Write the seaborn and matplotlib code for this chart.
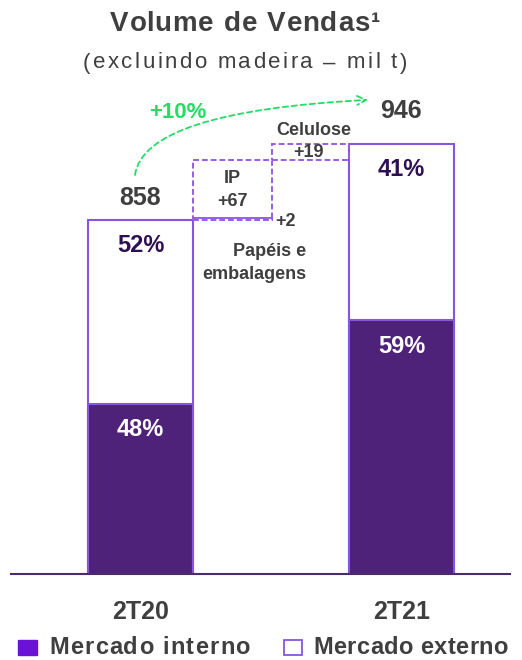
import matplotlib
matplotlib.use("Agg")
import matplotlib.pyplot as plt
from matplotlib.patches import Rectangle
import seaborn as sns
import pandas as pd

# ---- data ----
periods = ["2T20", "2T21"]
totals = [858, 946]
share_interno = [48, 59]
share_externo = [52, 41]
bridge_names = ["Papéis e\nembalagens", "IP", "Celulose"]
bridge_values = [2, 67, 19]
growth_label = "+10%"
legend_labels = ["Mercado interno", "Mercado externo"]
title = "Volume de Vendas¹"
subtitle = "(excluindo madeira – mil t)"

# ---- style ----
sns.set_theme(style="white")
plt.rcParams["font.family"] = ["Liberation Sans", "DejaVu Sans"]

TEXT = "#3f3f3f"
DARK_PURPLE = "#4F2279"
EDGE_PURPLE = "#8656E0"
DASH_PURPLE = "#9A5CE6"
LABEL_PURPLE = "#2E1052"
GREEN = "#22DD66"
LEG_PURPLE = "#6A12D6"

W, H = 522, 660
fig = plt.figure(figsize=(W / 100, H / 100), dpi=100)
ax = fig.add_axes([11 / W, 86 / H, 499 / W, 514 / H])
renderer = fig.canvas.get_renderer()


def text_width(s, **kw):
    t = fig.text(0, 0, s + "|", **kw)
    w = t.get_window_extent(renderer).width
    t.remove()
    t = fig.text(0, 0, "|", **kw)
    w -= t.get_window_extent(renderer).width
    t.remove()
    return w


def spaced_text(x_px, y_px, s, target_w, align="center", **kw):
    """Draw letter-spaced text (tracking) in figure pixel coordinates."""
    natural = text_width(s, **kw)
    track = (target_w - natural) / max(len(s) - 1, 1)
    total = natural + track * (len(s) - 1)
    x0 = x_px - total / 2 if align == "center" else x_px
    for i, ch in enumerate(s):
        if ch == " ":
            continue
        off = text_width(s[:i], **kw) if i else 0
        fig.text((x0 + off + i * track) / W, 1 - y_px / H, ch, ha="left",
                 va="center", **kw)


FLOOR = 448  # visual baseline of the (truncated) value axis
df = pd.DataFrame({
    "period": periods,
    "total": totals,
    "interno": [FLOOR + s / 100 * (t - FLOOR) for s, t in zip(share_interno, totals)],
})

sns.barplot(data=df, x="period", y="total", color="white", saturation=1,
            edgecolor=EDGE_PURPLE, linewidth=1.5, width=0.4, ax=ax)
sns.barplot(data=df, x="period", y="interno", color=DARK_PURPLE, saturation=1,
            edgecolor=EDGE_PURPLE, linewidth=1.5, width=0.4, ax=ax)

# bridge (waterfall) boxes
bridge_x = [(0.2, 0.505), (0.2, 0.505), (0.505, 0.8)]
bottom = totals[0]
boxes = []
for (x0, x1), v in zip(bridge_x, bridge_values):
    ax.bar((x0 + x1) / 2, v, width=x1 - x0, bottom=bottom, facecolor="none",
           edgecolor=DASH_PURPLE, linewidth=1.4, linestyle=(0, (3, 1.5)))
    boxes.append((x0, x1, bottom, bottom + v))
    bottom += v

ax.set_xlim(-0.496, 1.416)
ax.set_ylim(FLOOR, FLOOR + 514 / (76 / 88))

for s in ["top", "left", "right"]:
    ax.spines[s].set_visible(False)
ax.spines["bottom"].set_color("#4B2A6E")
ax.spines["bottom"].set_linewidth(1.5)
ax.set_yticks([])
ax.set_xlabel("")
ax.set_ylabel("")
ax.tick_params(axis="x", length=0, pad=19)
ax.set_xticks([0, 1])
ax.set_xticklabels(periods, fontsize=18, fontweight="bold", color=TEXT)

# totals
for i, t in enumerate(totals):
    ax.text(i, t + (25 if i == 0 else 38), f"{t}", ha="center", va="center",
            fontsize=18, fontweight="bold", color=TEXT)

# percentages
for i, (t, si, se) in enumerate(zip(totals, share_interno, share_externo)):
    top_int = df["interno"][i]
    ax.text(i, t - 30, f"{se}%", ha="center", va="center", fontsize=17,
            fontweight="bold", color=LABEL_PURPLE)
    ax.text(i, top_int - 30, f"{si}%", ha="center", va="center", fontsize=17,
            fontweight="bold", color="white")

# bridge labels
(p0, p1, pb, pt), (i0, i1, ib, it), (c0, c1, cb, ct) = boxes
ax.text((i0 + i1) / 2, ib + 46, bridge_names[1], ha="center", va="center",
        fontsize=13, fontweight="bold", color=TEXT)
ax.text((i0 + i1) / 2, ib + 19, f"+{bridge_values[1]}", ha="center", va="center",
        fontsize=13, fontweight="bold", color=TEXT)
ax.text((c0 + c1) / 2 + 0.01, ct + 15, bridge_names[2], ha="center", va="center",
        fontsize=13, fontweight="bold", color=TEXT)
ax.text((c0 + c1) / 2 - 0.01, cb + 9, f"+{bridge_values[2]}", ha="center", va="center",
        fontsize=13, fontweight="bold", color=TEXT)
ax.text(p1 + 0.05, pb - 2, f"+{bridge_values[0]}", ha="center", va="center",
        fontsize=13, fontweight="bold", color=TEXT)
ax.text(p1 + 0.13, pb - 27, bridge_names[0], ha="right", va="top",
        multialignment="right", fontsize=13, fontweight="bold", color=TEXT,
        linespacing=1.45)

# growth arrow
ax.annotate("", xy=(0.872, 997), xytext=(-0.021, 910),
            arrowprops=dict(arrowstyle="->", color=GREEN, lw=1.3,
                            linestyle=(0, (3, 2)), shrinkA=0, shrinkB=0,
                            mutation_scale=16,
                            connectionstyle="angle3,angleA=82,angleB=3"))
ax.text(0.144, 982, growth_label, ha="center", va="center", fontsize=16,
        fontweight="bold", color=GREEN)

# titles (letter-spaced like the original slide)
spaced_text(245, 24, title, 270, fontsize=20, fontweight="bold", color=TEXT)
spaced_text(245, 63, subtitle, 324, fontsize=16, color=TEXT)

# legend (drawn manually to keep the slide's letter spacing)
fig.patches.append(Rectangle((18 / W, 1 - 655 / H), 19 / W, 15 / H,
                             transform=fig.transFigure, facecolor=LEG_PURPLE,
                             edgecolor=LEG_PURPLE, lw=1))
fig.patches.append(Rectangle((284 / W, 1 - 655 / H), 18 / W, 15 / H,
                             transform=fig.transFigure, facecolor="white",
                             edgecolor=EDGE_PURPLE, lw=1.3))
spaced_text(49, 647, legend_labels[0], 201, align="left", fontsize=17,
            fontweight="bold", color=TEXT)
spaced_text(313, 647, legend_labels[1], 195, align="left", fontsize=17,
            fontweight="bold", color=TEXT)

fig.savefig("out.png", dpi=100)
